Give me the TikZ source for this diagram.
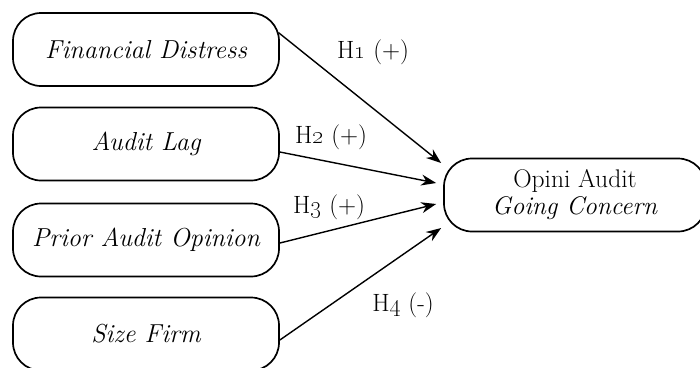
\documentclass[tikz,border=0pt]{standalone}
\usepackage{tikz}
\usetikzlibrary{arrows.meta}

\tikzset{
  varbox/.style={draw=black, line width=1.7pt, rounded corners=28pt,
    minimum width=266pt, minimum height=73pt, inner sep=2pt,
    font=\fontsize{26}{29}\selectfont\itshape},
  depbox/.style={varbox, minimum width=262pt, align=center, font=\fontsize{25.5}{27}\selectfont},
  hyp/.style={line width=1.4pt, -{Stealth[length=15pt,width=11pt]}},
  hlabel/.style={font=\fontsize{25}{27}\selectfont, inner sep=0pt}
}

\begin{document}
\begin{tikzpicture}[x=1pt,y=-1pt]
\useasboundingbox (0,0) rectangle (700,367);
\clip (0,0) rectangle (700,367);

% independent variables
\node[varbox] (fd) at (146,49.5) {Financial Distress};
\node[varbox] (al) at (146,144) {Audit Lag};
\node[varbox] (pao) at (146,240) {Prior Audit Opinion};
\node[varbox] (sf) at (146,334) {Size Firm};

% dependent variable
\node[depbox] (oa) at (575,195) {Opini Audit\\\textit{Going Concern}};

% hypotheses
\draw[hyp] ([xshift=-1.5pt,yshift=17pt]fd.east) -- ([xshift=-2pt,yshift=32pt]oa.west);
\draw[hyp] ([yshift=-8pt]al.east) -- ([xshift=-7pt,yshift=12pt]oa.west);
\draw[hyp] ([yshift=-3pt]pao.east) -- ([xshift=-7pt,yshift=-9pt]oa.west);
\draw[hyp] ([yshift=-6pt]sf.east) -- ([xshift=-2pt,yshift=-33pt]oa.west);

\node[hlabel] (h1) at (373,52) {H\oldstylenums{1} (+)};
\node[hlabel] (h2) at (331,137) {H\oldstylenums{2} (+)};
\node[hlabel] (h3) at (329,207) {H\oldstylenums{3} (+)};
\node[hlabel] (h4) at (403,305) {H\oldstylenums{4} (-)};
\end{tikzpicture}
\end{document}
